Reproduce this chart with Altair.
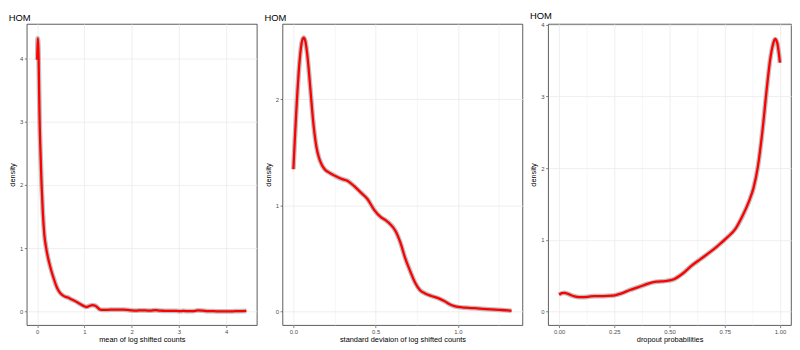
import altair as alt
import pandas as pd

# Panel 1: mean of log shifted counts
x1 = [0.0, 0.008, 0.02, 0.03, 0.04, 0.05, 0.07, 0.09, 0.12, 0.15, 0.19, 0.25, 0.3, 0.35, 0.4,
      0.45, 0.5, 0.55, 0.6, 0.65, 0.7, 0.8, 0.9, 1.0, 1.05, 1.1, 1.17, 1.23, 1.28, 1.33, 1.4,
      1.5, 1.6, 1.7, 1.8, 1.9, 2.0, 2.1, 2.2, 2.3, 2.4, 2.5, 2.6, 2.7, 2.8, 2.9, 3.0, 3.1, 3.2,
      3.3, 3.4, 3.5, 3.6, 3.7, 3.8, 3.9, 4.0, 4.1, 4.2, 4.3, 4.43]
y1 = [3.98, 4.32, 4.25, 4.0, 3.5, 3.05, 2.5, 2.05, 1.55, 1.22, 1.0, 0.78, 0.64, 0.52, 0.41,
      0.33, 0.28, 0.25, 0.23, 0.22, 0.2, 0.165, 0.12, 0.08, 0.07, 0.085, 0.1, 0.09, 0.06, 0.03, 0.025,
      0.025, 0.03, 0.03, 0.028, 0.025, 0.015, 0.012, 0.018, 0.015, 0.012, 0.02, 0.012, 0.01, 0.008, 0.01,
      0.005, 0.008, 0.005, 0.006, 0.015, 0.012, 0.006, 0.004, 0.002, 0.002, 0.001, 0.002, 0.003, 0.005, 0.01]

# Panel 2: standard deviation of log shifted counts
x2 = [0.0, 0.008, 0.016, 0.024, 0.032, 0.04, 0.05, 0.062, 0.072, 0.082, 0.092, 0.104, 0.116,
      0.128, 0.14, 0.155, 0.17, 0.19, 0.215, 0.25, 0.29, 0.33, 0.37, 0.41, 0.45, 0.49, 0.53,
      0.56, 0.59, 0.62, 0.65, 0.68, 0.71, 0.74, 0.77, 0.8, 0.84, 0.88, 0.92, 0.96, 1.0, 1.05,
      1.1, 1.15, 1.2, 1.25, 1.3, 1.326]
y2 = [1.34, 1.6, 1.84, 2.06, 2.25, 2.4, 2.53, 2.58, 2.55, 2.45, 2.3, 2.08, 1.86,
      1.68, 1.55, 1.45, 1.39, 1.34, 1.31, 1.28, 1.25, 1.23, 1.18, 1.12, 1.06, 0.96, 0.89,
      0.86, 0.82, 0.76, 0.65, 0.5, 0.38, 0.27, 0.2, 0.17, 0.145, 0.125, 0.095, 0.06, 0.042, 0.035,
      0.03, 0.025, 0.02, 0.015, 0.01, 0.006]

# Panel 3: dropout probabilities
x3 = [0.0, 0.012, 0.025, 0.04, 0.06, 0.08, 0.1, 0.13, 0.16, 0.2, 0.24, 0.28, 0.32, 0.36, 0.4,
      0.44, 0.48, 0.52, 0.56, 0.6, 0.64, 0.68, 0.72, 0.76, 0.8, 0.83, 0.86, 0.88, 0.9, 0.92,
      0.94, 0.955, 0.968, 0.978, 0.988, 0.995, 1.0]
y3 = [0.234, 0.255, 0.26, 0.245, 0.22, 0.205, 0.2, 0.205, 0.215, 0.215, 0.22, 0.25, 0.3, 0.34, 0.385,
      0.415, 0.425, 0.45, 0.53, 0.64, 0.73, 0.82, 0.92, 1.03, 1.16, 1.33, 1.54, 1.72, 2.02, 2.5,
      3.1, 3.5, 3.72, 3.8, 3.74, 3.6, 3.47]

x_titles = ["mean of log shifted counts", "standard deviaion of log shifted counts", "dropout probabilities"]
panel_title = "HOM"


def cond(major, a, b):
    return {"condition": {"test": f"indexof({major}, datum.value) >= 0", "value": a}, "value": b}


def panel(xs, ys, xdom, ydom, xmaj, xmin_, ymaj, ymin_, xfmt, xtitle, width):
    df = pd.DataFrame({"x": xs, "y": ys})
    xaxis = alt.Axis(
        values=sorted(xmaj + xmin_), format=xfmt, title=xtitle,
        labelExpr=f"indexof({xmaj}, datum.value) >= 0 ? datum.label : ''",
        tickOpacity=cond(xmaj, 1, 0), gridWidth=cond(xmaj, 0.8, 0.45),
    )
    yaxis = alt.Axis(
        values=sorted(ymaj + ymin_), format="d", title="density",
        labelExpr=f"indexof({ymaj}, datum.value) >= 0 ? datum.label : ''",
        tickOpacity=cond(ymaj, 1, 0), gridWidth=cond(ymaj, 0.8, 0.45),
    )
    base = alt.Chart(df).encode(
        x=alt.X("x:Q", scale=alt.Scale(domain=xdom, nice=False, zero=False), axis=xaxis),
        y=alt.Y("y:Q", scale=alt.Scale(domain=ydom, nice=False, zero=False), axis=yaxis),
    )
    band = base.mark_line(color="#AAAAAA", strokeWidth=4.8, opacity=0.75, interpolate="monotone", clip=True)
    line = base.mark_line(color="#FF0000", strokeWidth=2.3, interpolate="monotone", clip=True)
    return alt.layer(band, line).properties(
        width=width, height=305,
        title=alt.TitleParams(panel_title, anchor="start", fontSize=9.5, fontWeight="normal",
                              color="black", offset=1),
    )


p1 = panel(x1, y1, [-0.2215, 4.6515], [-0.2165, 4.5465], [0, 1, 2, 3, 4],
           [0.5, 1.5, 2.5, 3.5, 4.5], [0, 1, 2, 3, 4], [0.5, 1.5, 2.5, 3.5, 4.5], "d", x_titles[0], 233)
p2 = panel(x2, y2, [-0.0663, 1.3923], [-0.129, 2.709], [0, 0.5, 1.0],
           [0.25, 0.75, 1.25], [0, 1, 2], [0.5, 1.5, 2.5], ".1f", x_titles[1], 243)
p3 = panel(x3, y3, [-0.05, 1.05], [-0.19, 4.01], [0, 0.25, 0.5, 0.75, 1.0],
           [0.125, 0.375, 0.625, 0.875], [0, 1, 2, 3, 4], [0.5, 1.5, 2.5, 3.5], ".2f", x_titles[2], 246)

chart = alt.hconcat(p1, p2, p3, spacing=26, bounds="flush").properties(
    padding={"left": 0, "top": 0, "right": 0, "bottom": 0}
).configure(font="Liberation Sans").configure_view(
    stroke="#333333", strokeWidth=0.8
).configure_axis(
    domain=False, tickColor="#333333", tickSize=2.5, tickWidth=0.6,
    labelColor="#4D4D4D", labelFontSize=6, labelPadding=1.5,
    titleFontSize=7.5, titleColor="black", titleFontWeight="normal",
    gridColor="#EBEBEB",
).configure_axisX(titlePadding=1).configure_axisY(titlePadding=3)

chart.save("out.html", embed_options={"renderer": "svg", "actions": False})
